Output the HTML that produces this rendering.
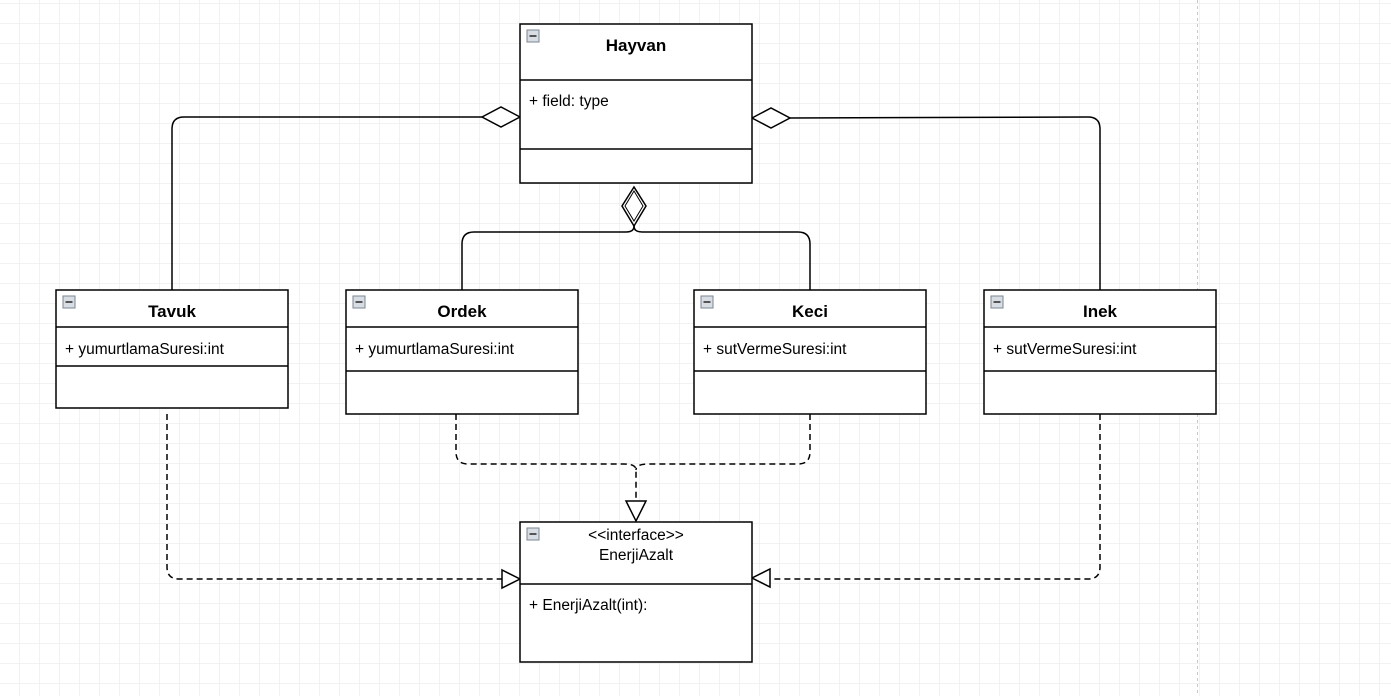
<!DOCTYPE html>
<html><head><meta charset="utf-8"><style>
html,body{margin:0;padding:0;background:#fff;}
svg{display:block;font-family:"Liberation Sans",Arial,sans-serif;}
</style></head><body>
<svg width="1391" height="696" viewBox="0 0 1391 696" xmlns="http://www.w3.org/2000/svg">
<defs>
<pattern id="g" width="20" height="20" patternUnits="userSpaceOnUse" x="0" y="4">
<path d="M20 0V20M0 20H20" fill="none" stroke="#e6e6e6" stroke-width="1"/>
</pattern>
<g id="ic"><rect x="0" y="0" width="12" height="12" fill="#d8dde4" stroke="#7a8592"/><line x1="2.5" y1="6" x2="9.5" y2="6" stroke="#333" stroke-width="1.6"/></g>
</defs>
<rect width="1391" height="696" fill="url(#g)"/>
<line x1="1197.5" y1="0" x2="1197.5" y2="696" stroke="#c8c8c8" stroke-dasharray="3,3"/>

<g fill="none" stroke="#000" stroke-width="1.5">
<path d="M172 290V129Q172 117 184 117H482"/>
<path d="M482 117L501 107L520 117L501 127Z" fill="#fff"/>
<path d="M1100 290V129Q1100 117 1088 117L790 118"/>
<path d="M752 118L771 108L790 118L771 128Z" fill="#fff"/>
<path d="M462 290V244Q462 232 474 232H626Q634 232 634 226"/>
<path d="M810 290V244Q810 232 798 232H642Q634 232 634 226"/>
<path d="M634 187L622 206L634 226L646 206Z" fill="#fff"/>
<path d="M634 191L625 206L634 221L643 206Z" fill="none" stroke-width="1"/>
<g stroke-dasharray="6,4">
<path d="M456 414V452Q456 464 468 464H624Q636 464 636 470V500"/>
<path d="M810 414V452Q810 464 798 464H648Q636 464 636 470"/>
<path d="M167 414V567Q167 579 179 579H502"/>
<path d="M1100 414V567Q1100 579 1088 579H770"/>
</g>
<path d="M626 501H646L636 521Z" fill="#fff"/>
<path d="M502 570V588L520 579Z" fill="#fff"/>
<path d="M770 569V587L752 578Z" fill="#fff"/>

<rect x="520" y="24" width="232" height="159" fill="#fff"/>
<line x1="520" y1="80" x2="752" y2="80"/><line x1="520" y1="149" x2="752" y2="149"/>
<rect x="56" y="290" width="232" height="118" fill="#fff"/>
<line x1="56" y1="327" x2="288" y2="327"/><line x1="56" y1="366" x2="288" y2="366"/>
<rect x="346" y="290" width="232" height="124" fill="#fff"/>
<line x1="346" y1="327" x2="578" y2="327"/><line x1="346" y1="371" x2="578" y2="371"/>
<rect x="694" y="290" width="232" height="124" fill="#fff"/>
<line x1="694" y1="327" x2="926" y2="327"/><line x1="694" y1="371" x2="926" y2="371"/>
<rect x="984" y="290" width="232" height="124" fill="#fff"/>
<line x1="984" y1="327" x2="1216" y2="327"/><line x1="984" y1="371" x2="1216" y2="371"/>
<rect x="520" y="522" width="232" height="140" fill="#fff"/>
<line x1="520" y1="584" x2="752" y2="584"/>
</g>
<use href="#ic" x="527" y="30"/>
<use href="#ic" x="63" y="296"/>
<use href="#ic" x="353" y="296"/>
<use href="#ic" x="701" y="296"/>
<use href="#ic" x="991" y="296"/>
<use href="#ic" x="527" y="528"/>

<g font-size="15.5" fill="#000">
<text x="636" y="51" text-anchor="middle" font-weight="bold" font-size="17">Hayvan</text>
<text x="529" y="106">+ field: type</text>
<text x="172" y="317" text-anchor="middle" font-weight="bold" font-size="17">Tavuk</text>
<text x="65" y="354">+ yumurtlamaSuresi:int</text>
<text x="462" y="317" text-anchor="middle" font-weight="bold" font-size="17">Ordek</text>
<text x="355" y="354">+ yumurtlamaSuresi:int</text>
<text x="810" y="317" text-anchor="middle" font-weight="bold" font-size="17">Keci</text>
<text x="703" y="354">+ sutVermeSuresi:int</text>
<text x="1100" y="317" text-anchor="middle" font-weight="bold" font-size="17">Inek</text>
<text x="993" y="354">+ sutVermeSuresi:int</text>
<text x="636" y="540" text-anchor="middle">&lt;&lt;interface&gt;&gt;</text>
<text x="636" y="560" text-anchor="middle">EnerjiAzalt</text>
<text x="529" y="610">+ EnerjiAzalt(int):</text>
</g>
</svg>
</body></html>
